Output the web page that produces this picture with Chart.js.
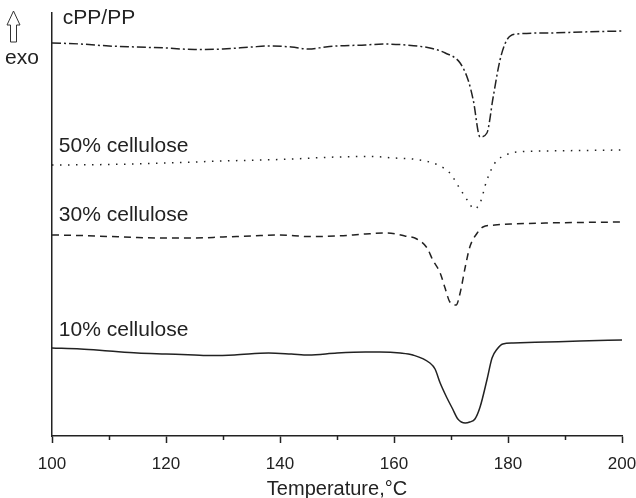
<!DOCTYPE html>
<html>
<head>
<meta charset="utf-8">
<script src="https://cdn.jsdelivr.net/npm/chart.js@4/dist/chart.umd.min.js"></script>
<style>
  html, body { margin: 0; padding: 0; background: #fff; }
  #wrap { width: 636px; height: 498px; }
</style>
</head>
<body>
<div id="wrap"><canvas id="c" width="636" height="498"></canvas></div>
<script>
// Temperature (°C) and heat-flow (arbitrary units, offset per curve)
const cppT = [100,105,110,115,120,125,130,135,138,142,145,148,150,155,158.1,162,166.3,169,171.6,173,173.9,175.1,176.3,177.4,178.6,179.8,181.6,186.8,193,200];
const cppV = [393,392,390,389,388,386.5,387,389,390,389,387,389,390,391,392,391,388,383,373,356,336,299,303,339,376,396,402,403,404,405];

const c50T = [100,110,120,130,140,150,156,160,163.3,165.5,167.7,169.8,171.6,173.2,174.0,175.1,176.3,177.7,180.0,181.6,186.8,193,200];
const c50V = [271,271.5,273,275,276.5,279,279.5,278,277,275,271,263,247,233,227,233,256,273,282,284,285,285.5,286];

const c30T = [100,105,110,115,120,125,130,135,140,145,150,155,158.8,161.9,164.0,165.8,166.8,168.1,168.9,169.8,170.9,171.6,172.5,173.3,174.6,175.6,177.7,180.9,186.8,200];
const c30V = [201,200.5,199.5,198.5,198,198,199,200,201,199.5,200,202,203,200,197,188,176,163,149,134,131,143,169,189,203,209,211,212,213,214];

const c10T = [100,105,110,115,120,125,128,132,138,142,145,150,155,157.5,161.1,163.3,166.3,167.2,168.1,169.3,170.2,171.2,172.5,173.3,174.2,175.1,176.3,177.2,178.1,179.1,180.9,186.8,192.6,200];
const c10V = [88,87,85,83,82,81,80.5,81,83,82,81,83,84,84,83,81,73,67,53,38,28,17,13,14,17,29,56,78,87,92,93,94,95,96];

const seriesNames = ["cPP/PP", "50% cellulose", "30% cellulose", "10% cellulose"];
const labelAnchors = [[101.9, 418], [101.2, 290], [101.2, 221], [101.2, 106]]; // text positions in data units
const xTicks = [100, 120, 140, 160, 180, 200];

const toPts = (T, V) => T.map((t, i) => ({x: t, y: V[i]}));
const ink = '#222';

const labelPlugin = {
  id: 'annot',
  afterDraw(chart) {
    const ctx = chart.ctx, xs = chart.scales.x, ys = chart.scales.y;
    ctx.save();
    ctx.fillStyle = ink;
    ctx.font = '21px "Liberation Sans", Arial, sans-serif';
    ctx.textBaseline = 'middle';
    ctx.textAlign = 'left';
    seriesNames.forEach((n, i) => {
      ctx.fillText(n, xs.getPixelForValue(labelAnchors[i][0]), ys.getPixelForValue(labelAnchors[i][1]));
    });
    // minor ticks
    ctx.strokeStyle = ink; ctx.lineWidth = 1.5;
    for (let t = 110; t < 200; t += 20) {
      const px = Math.round(xs.getPixelForValue(t)) + 0.5;
      ctx.beginPath(); ctx.moveTo(px, ys.bottom); ctx.lineTo(px, ys.bottom + 4); ctx.stroke();
    }
    // exo label and hollow arrow
    ctx.font = '21px "Liberation Sans", Arial, sans-serif';
    ctx.fillText('exo', 5, 58);
    ctx.lineWidth = 1;
    ctx.strokeStyle = '#333';
    ctx.beginPath();
    ctx.moveTo(13.5, 11);
    ctx.lineTo(20, 25);
    ctx.lineTo(16.5, 25);
    ctx.lineTo(16.5, 42);
    ctx.lineTo(10.5, 42);
    ctx.lineTo(10.5, 25);
    ctx.lineTo(7, 25);
    ctx.closePath();
    ctx.stroke();
    ctx.restore();
  }
};

new Chart(document.getElementById('c'), {
  type: 'line',
  data: {
    datasets: [
      {label: seriesNames[0], data: toPts(cppT, cppV), borderDash: [9, 3, 2, 3]},
      {label: seriesNames[1], data: toPts(c50T, c50V), borderDash: [1.5, 6.5]},
      {label: seriesNames[2], data: toPts(c30T, c30V), borderDash: [7, 5]},
      {label: seriesNames[3], data: toPts(c10T, c10V), borderDash: []}
    ].map(d => Object.assign({
      borderColor: ink, borderWidth: 1.5, pointRadius: 0, fill: false,
      cubicInterpolationMode: 'monotone'
    }, d))
  },
  options: {
    responsive: false,
    animation: false,
    devicePixelRatio: 1,
    layout: {padding: {left: 52, right: 14, top: 13, bottom: 0}},
    plugins: {legend: {display: false}, tooltip: {enabled: false}},
    scales: {
      x: {
        type: 'linear', min: 100, max: 200,
        afterBuildTicks: s => { s.ticks = xTicks.map(v => ({value: v})); },
        ticks: {color: ink, font: {size: 17, family: '"Liberation Sans", Arial, sans-serif'}, padding: 11, maxRotation: 0, autoSkip: false},
        grid: {display: true, drawOnChartArea: false, drawTicks: true, tickLength: 7, tickWidth: 1.5, tickColor: ink},
        border: {display: true, color: ink, width: 1.5},
        title: {display: true, text: 'Temperature,°C', color: ink, font: {size: 20, family: '"Liberation Sans", Arial, sans-serif'}, padding: {top: 8, bottom: -3}},
        afterFit: s => { s.height = 62; s.paddingLeft = 0; s.paddingRight = 0; }
      },
      y: {
        type: 'linear', min: 0, max: 423,
        ticks: {display: false},
        grid: {display: false, drawTicks: false},
        border: {display: true, color: ink, width: 1.5},
        afterFit: s => { s.width = 0; }
      }
    }
  },
  plugins: [labelPlugin]
});
</script>
</body>
</html>
